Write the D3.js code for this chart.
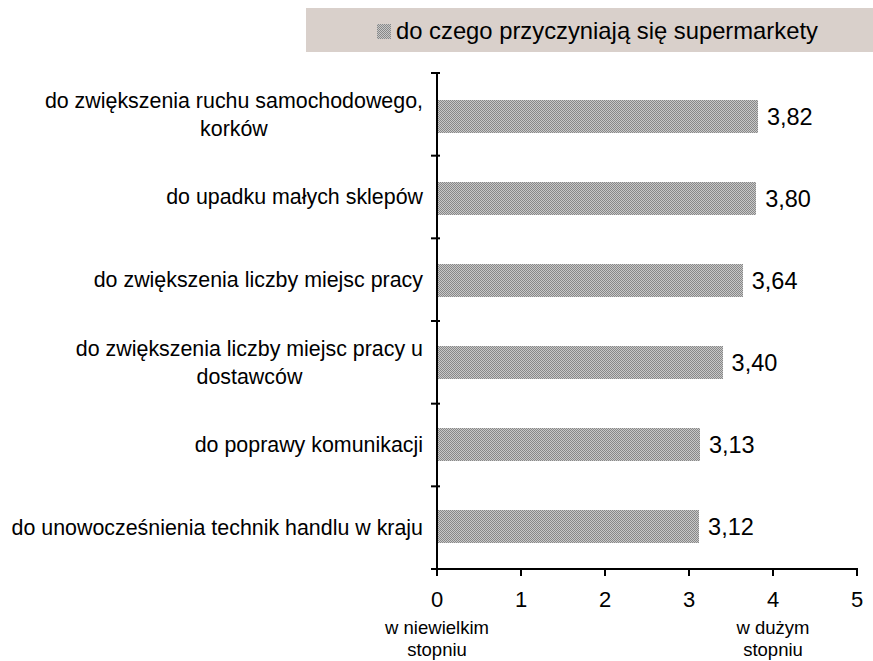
<!DOCTYPE html>
<html><head><meta charset="utf-8">
<script src="https://cdn.jsdelivr.net/npm/d3@7"></script>
<style>body{margin:0;background:#fff}svg{display:block}text{font-family:"Liberation Sans",Arial,sans-serif;fill:#000}</style>
</head><body>
<svg id="c" width="873" height="661"></svg>
<script>
const categories = [
  ["do zwiększenia ruchu samochodowego,", "korków"],
  ["do upadku małych sklepów"],
  ["do zwiększenia liczby miejsc pracy"],
  ["do zwiększenia liczby miejsc pracy u", "dostawców"],
  ["do poprawy komunikacji"],
  ["do unowocześnienia technik handlu w kraju"]
];
const values = [3.82, 3.80, 3.64, 3.40, 3.13, 3.12];
const xTicks = [0, 1, 2, 3, 4, 5];
const seriesName = "do czego przyczyniają się supermarkety";
const endLabels = [{v: 0, lines: ["w niewielkim", "stopniu"]}, {v: 4, lines: ["w dużym", "stopniu"]}];

const svg = d3.select("#c");
const defs = svg.append("defs");
const pat = defs.append("pattern").attr("id", "dots").attr("patternUnits", "userSpaceOnUse")
  .attr("width", 2).attr("height", 2);
pat.append("rect").attr("width", 2).attr("height", 2).attr("fill", "#c8c8c8");
pat.append("rect").attr("width", 1).attr("height", 1).attr("fill", "#888");
pat.append("rect").attr("x", 1).attr("y", 1).attr("width", 1).attr("height", 1).attr("fill", "#888");

const x = d3.scaleLinear().domain([0, 5]).range([437, 857]);
const y = d3.scaleBand().domain(d3.range(categories.length)).range([73, 569]).paddingInner(0.6).paddingOuter(0.3).round(true);
const band = d3.scaleBand().domain(d3.range(categories.length)).range([73, 569]);

// legend
svg.append("rect").attr("x", 306).attr("y", 8).attr("width", 580).attr("height", 44).attr("fill", "#d9d0cb");
svg.append("rect").attr("x", 377).attr("y", 24).attr("width", 14).attr("height", 15).attr("fill", "url(#dots)").attr("shape-rendering", "crispEdges");
svg.append("text").attr("x", 396).attr("y", 39).attr("font-size", 23.8).text(seriesName);

// bars
svg.selectAll("rect.bar").data(values).join("rect").attr("class", "bar")
  .attr("x", x(0) + 1).attr("y", (d, i) => y(i)).attr("width", d => x(d) - x(0) - 1).attr("height", y.bandwidth())
  .attr("fill", "url(#dots)").attr("shape-rendering", "crispEdges");

svg.selectAll("text.val").data(values).join("text").attr("class", "val")
  .attr("x", d => x(d) + 9).attr("y", (d, i) => y(i) + y.bandwidth() / 2).attr("dy", "0.36em")
  .attr("font-size", 23.5).text(d => d.toFixed(2).replace(".", ","));

// category labels
categories.forEach((lines, i) => {
  const cy = band(i) + band.bandwidth() / 2;
  const lh = 28;
  const g = svg.append("g");
  const ts = lines.map((l, j) => g.append("text").attr("font-size", 21.4)
    .attr("y", cy + (j - (lines.length - 1) / 2) * lh).attr("dy", "0.35em").text(l));
  const widths = ts.map(t => t.node().getComputedTextLength());
  const maxW = d3.max(widths);
  const right = 423;
  ts.forEach((t, j) => t.attr("x", right - maxW / 2).attr("text-anchor", "middle"));
});

// y axis
const yAxisG = svg.append("g");
yAxisG.append("line").attr("x1", 437).attr("x2", 437).attr("y1", 73).attr("y2", 575).attr("stroke", "#000").attr("stroke-width", 2);
const yTicks = d3.range(categories.length + 1).map(i => i < categories.length ? band(i) : 569);
yAxisG.selectAll("line.t").data(yTicks).join("line").attr("class", "t")
  .attr("x1", 431).attr("x2", 440).attr("y1", d => d).attr("y2", d => d).attr("stroke", "#000").attr("stroke-width", 2);

// x axis
const xAxisG = svg.append("g");
xAxisG.append("line").attr("x1", 431).attr("x2", x(5) + 1).attr("y1", 569).attr("y2", 569).attr("stroke", "#000").attr("stroke-width", 2);
xAxisG.selectAll("line.t").data(xTicks).join("line").attr("class", "t")
  .attr("x1", d => x(d)).attr("x2", d => x(d)).attr("y1", 569).attr("y2", 576).attr("stroke", "#000").attr("stroke-width", 2);
xAxisG.selectAll("text.t").data(xTicks).join("text").attr("class", "t")
  .attr("x", d => x(d)).attr("y", 599).attr("dy", "0.36em").attr("text-anchor", "middle").attr("font-size", 22).text(d => d);

endLabels.forEach(e => {
  e.lines.forEach((l, j) => svg.append("text").attr("x", x(e.v)).attr("y", 628 + j * 22).attr("dy", "0.35em")
    .attr("text-anchor", "middle").attr("font-size", 18.5).text(l));
});
</script>
</body></html>
